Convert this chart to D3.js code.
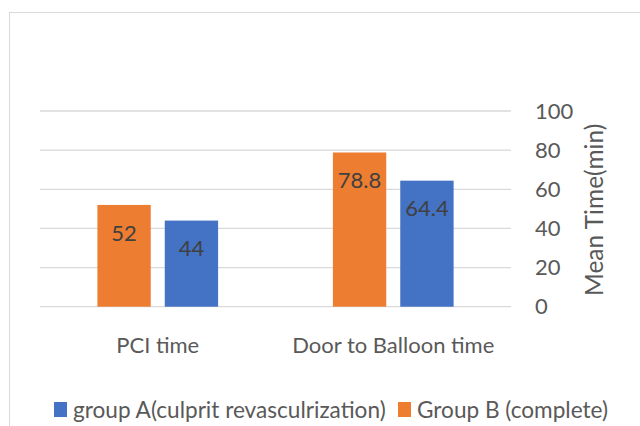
<!DOCTYPE html>
<html><head><meta charset="utf-8">
<script src="https://cdn.jsdelivr.net/npm/d3@7"></script>
<style>body{margin:0;background:#fff}svg{display:block;font-family:Lato,"Open Sans",sans-serif}</style>
</head><body><svg id="c" width="640" height="426"></svg>
<script>
const categories = ["PCI time", "Door to Balloon time"];
const seriesNames = ["Group B (complete)", "group A(culprit revasculrization)"];
const groupB = [52, 78.8];
const groupA = [44, 64.4];
const yTicks = [0, 20, 40, 60, 80, 100];
const legendOrder = ["group A(culprit revasculrization)", "Group B (complete)"];
const colors = {"group A(culprit revasculrization)": "#4472C4", "Group B (complete)": "#ED7D31"};

(function () {
const svg = d3.select("#c");
const pL = 40, pR = 511, pT = 111, pB = 306.7;
const textColor = "#595959", fs = 22;
const ff = 'Lato,"Open Sans",sans-serif';

svg.append("rect").attr("x", 9.5).attr("y", 12.5).attr("width", 700).attr("height", 500)
  .attr("fill", "none").attr("stroke", "#d9d9d9").attr("stroke-width", 1);

const x0 = d3.scaleBand().domain(categories).range([pL, pR]);
const y = d3.scaleLinear().domain([0, 100]).range([pB, pT]);

svg.append("g").selectAll("line").data(yTicks).join("line")
  .attr("x1", pL).attr("x2", pR)
  .attr("y1", d => y(d)).attr("y2", d => y(d))
  .attr("stroke", "#d9d9d9").attr("stroke-width", 1.3);

const ax = svg.append("g").attr("transform", `translate(${pR},0)`)
  .call(d3.axisRight(y).tickValues(yTicks).tickSize(0).tickPadding(24));
ax.select(".domain").remove();
ax.selectAll("text").attr("font-size", fs).attr("fill", textColor).attr("font-family", ff);

svg.append("text").attr("transform", `translate(603,${(pT + pB) / 2 + 1}) rotate(-90)`)
  .attr("text-anchor", "middle").attr("font-size", 24.5).attr("fill", textColor)
  .text("Mean Time(min)");

const data = categories.map((c, i) => ({cat: c, vals: [
  {s: seriesNames[0], v: groupB[i]}, {s: seriesNames[1], v: groupA[i]}]}));
const bw = x0.bandwidth() * 0.2265, gap = x0.bandwidth() * 0.0595;
const x1 = d3.scaleOrdinal().domain(seriesNames).range([-(bw + gap / 2), gap / 2]);

const g = svg.append("g").selectAll("g").data(data).join("g")
  .attr("transform", d => `translate(${x0(d.cat) + x0.bandwidth() / 2},0)`);
g.selectAll("rect").data(d => d.vals).join("rect")
  .attr("x", d => x1(d.s)).attr("width", bw)
  .attr("y", d => y(d.v)).attr("height", d => y(0) - y(d.v))
  .attr("fill", d => colors[d.s]);
g.selectAll("text").data(d => d.vals).join("text")
  .attr("x", d => x1(d.s) + bw / 2).attr("y", d => y(d.v) + 28)
  .attr("dy", "0.35em").attr("text-anchor", "middle")
  .attr("font-size", fs).attr("fill", "#404040").text(d => d.v);

svg.append("g").selectAll("text").data(categories).join("text")
  .attr("x", d => x0(d) + x0.bandwidth() / 2).attr("y", 345).attr("dy", "0.35em")
  .attr("text-anchor", "middle").attr("font-size", fs).attr("fill", textColor).text(d => d);

const lg = svg.append("g");
const legX = [54, 398];
legendOrder.forEach((s, i) => {
  lg.append("rect").attr("x", legX[i]).attr("y", 402).attr("width", 13).attr("height", 15).attr("fill", colors[s]);
  lg.append("text").attr("x", legX[i] + 19).attr("y", 410).attr("dy", "0.35em")
    .attr("font-size", 22.6).attr("fill", textColor).text(s);
});
})();
</script></body></html>
